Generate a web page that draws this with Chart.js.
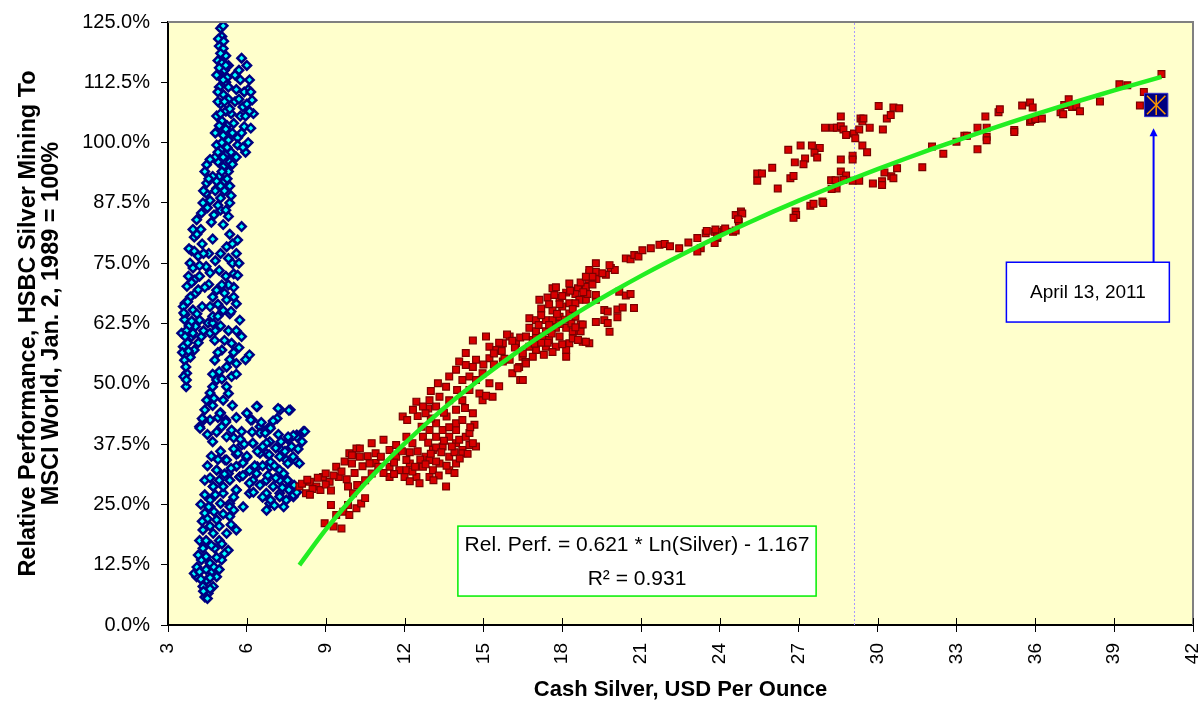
<!DOCTYPE html>
<html>
<head>
<meta charset="utf-8">
<script src="https://cdn.jsdelivr.net/npm/chart.js@4.4.0/dist/chart.umd.min.js"></script>
<style>
  html, body { margin: 0; padding: 0; background: #fff; }
  #wrap { width: 1198px; height: 702px; }
</style>
</head>
<body>
<div id="wrap"><canvas id="chart" width="1198" height="702"></canvas></div>
<script>
// x = cash silver (USD/oz), y = relative performance (%)
const xTicks = [3, 6, 9, 12, 15, 18, 21, 24, 27, 30, 33, 36, 39, 42];
const yTicks = [0, 12.5, 25, 37.5, 50, 62.5, 75, 87.5, 100, 112.5, 125];

// earlier period (blue diamonds)
const bluePoints = [
  [5.0,123.7],[5.1,124.2],[5.05,122],[4.95,120],[5.1,119.5],[5.2,118],[4.9,117],[5.05,116.5],[5.15,115],[5.0,113.5],
  [5.2,112.5],[4.95,111.5],[5.1,110],[5.3,109],[5.0,108],[5.2,106.5],[4.85,105.5],[5.05,104.5],[5.25,103.5],[4.9,102.5],
  [5.1,101.5],[5.3,100.5],[4.85,99.5],[5.0,98.5],[5.2,97.5],[4.9,96],[5.1,95],[5.3,94],[4.95,93],[5.15,92],[5.35,91],[4.85,90.5],
  [4.8,102],[4.8,97],[5.4,98],[5.45,102],[5.4,106],[4.9,108.5],[5.25,113.5],[5.3,116],[4.85,114],
  [4.92,121.5],[5.12,121],[5.0,118.5],[5.2,116],[4.95,115.5],[5.1,113],[5.3,111.5],[4.9,110.5],[5.15,108.5],[5.35,107],
  [5.0,106],[4.95,103.5],[5.2,102.8],[5.05,100],[4.9,98],[5.25,99],[5.1,97],[5.35,96],[5.05,94],[4.85,92],[5.25,92.5],[5.0,91],
  [5.8,117.5],[5.7,115],[6.1,113],[5.75,113],[6.05,111],[6.2,108.8],[5.85,107.4],[6.25,106],[5.9,103.3],[6.05,100],
  [5.95,98],[5.6,97],[5.6,111],[5.5,104],[5.65,101],[5.75,105.5],[6.15,103],[5.55,108.5],[5.45,95.5],
  [5.7,109],[5.9,110.5],[6.0,108],[5.8,102],[5.95,105.5],[6.1,106.5],[5.65,99.5],[5.85,99],[6.15,110.5],[6.0,116],[5.55,114],
  [4.47,95.4],[4.4,94],[4.47,91.6],[4.45,89.5],[4.33,87.5],[4.27,85.4],[5.0,88.5],[5.0,86],[5.35,87.5],[5.3,84.7],
  [4.7,93],[4.6,88],[4.75,85],[5.15,90],[4.6,96.5],[4.55,92.5],[4.35,90],[4.5,86.5],[4.9,87],[5.2,86],[4.8,90],[5.4,89],[4.65,83.5],[5.1,83],
  [4.09,84],[4.0,80.4],[3.9,77.6],[3.84,75],[3.78,72.3],[3.72,70.2],[3.65,66.7],[3.65,64.3],[4.1,81],[4.3,79],
  [4.55,77],[4.45,74.3],[4.2,72.3],[4.05,68.8],[4.55,70.6],[4.85,69.4],[5.23,78.4],[5.65,79.8],[5.8,82.6],[5.45,75],
  [5.5,72.8],[5.2,72.3],[5.15,68.8],[5.5,68],[5.35,64.5],[5.1,65.2],[4.95,73.5],[3.95,74],[4.15,76.5],[3.85,68],
  [4.3,66],[4.0,71.5],[5.35,81],[5.6,77],[4.7,80],[4.9,66.5],
  [3.8,78],[4.0,77.5],[4.2,74.5],[4.35,77],[4.6,73],[4.8,75.5],[5.0,77],[5.3,76],[5.5,70],[5.3,70.5],[4.7,68],[4.4,70],
  [3.9,71],[3.75,67],[4.15,69.5],[5.05,70.5],[5.7,75],[3.95,82],[4.25,82],[5.45,79],[5.65,72.5],
  [3.58,66],[3.63,63.3],[3.52,60.5],[3.58,57.7],[3.63,54.9],[3.71,52.2],[3.69,49.4],[3.95,65.3],[4.05,61.9],[3.9,59.8],
  [4.0,57],[4.2,63.2],[4.27,59.8],[4.52,62.6],[4.7,62.6],[3.8,62],[3.75,58.5],[3.85,55.5],[3.6,51.5],
  [3.6,64.7],[3.7,61],[3.55,56.5],[3.68,53.5],[3.78,56.8],[3.9,63],[4.1,64.5],[4.35,61],[4.6,60.5],[3.65,59.8],[3.95,60.5],[4.15,58.5],[3.7,50.8],
  [4.6,66],[5.23,67.4],[5.6,66.6],[5.73,63.2],[4.78,59],[5.42,58.4],[5.8,59.8],[6.1,56],[4.78,54.9],[5.23,53.5],
  [5.6,54.2],[4.85,50.8],[5.23,49.4],[5.42,51.5],[4.6,48.1],[5.1,46.6],[5.3,48],[4.4,44.6],[4.2,41.1],[4.6,42.5],
  [4.85,40],[5.04,41.1],[5.23,39],[5.42,40.4],[5.0,62],[5.3,61],[5.05,57],[4.95,52.5],[5.5,56.5],[4.7,45.5],[5.0,44],[4.5,39.5],
  [4.7,64],[4.9,64],[5.4,65],[4.8,61],[5.15,59],[5.6,61],[5.7,57.5],[4.9,56.5],[5.35,55],[5.05,51],[4.7,52],[5.6,52],
  [4.75,47],[5.45,45.5],[4.9,43],[5.2,42.5],[4.35,42.5],[4.7,38],[5.6,43],[5.95,55],
  [4.22,40.8],[4.3,42.8],[4.47,46.6],[4.7,49.4],[4.98,43.9],[5.2,42.1],[5.5,38.8],[6.0,43.9],[6.4,45.3],[6.2,42.5],
  [6.5,41.1],[6.87,41.1],[7.27,44.6],[7.65,44.6],[7.15,42.8],[7.58,38.4],[7.9,39.4],[8.15,40.1],[6.87,38],[7.25,36.6],
  [7.5,34.2],[7.9,33.9],[6.74,35.6],[6.23,37.7],[5.8,37.3],[5.6,35.4],[6.0,34.7],[6.4,32.8],[6.87,32.8],[7.25,32.1],
  [5.17,34.2],[4.86,32.1],[5.3,31.4],[5.73,30.7],[6.23,30],[6.74,30],[7.25,30],[7.6,28.7],[7.77,26.6],[7.25,27.3],
  [6.74,27.3],[4.72,28.7],[5.1,27.3],[5.6,28],[6.1,27.3],[4.6,24.5],[5.35,25.2],[5.86,24.5],[6.87,25.2],[7.4,24.5],
  [6.37,45.3],[6.0,43.9],[5.8,40.1],[6.15,42.5],[6.5,39.8],[6.23,37.7],[5.66,35.6],[6.0,35],[5.85,33.6],[5.6,32.9],
  [6.5,35.6],[6.75,37.7],[7.1,36.7],[7.25,34.9],[6.9,33.8],[7.56,33.5],[7.4,31.4],[7.76,34.9],[8.0,33.5],[7.9,39],
  [8.2,40.1],[7.77,39.3],[7.57,39],[7.19,44.9],[7.6,44.5],[7.0,42.3],[6.7,39.8],[7.2,39.5],[6.55,42],[5.9,37.5],[6.3,33],
  [6.2,40],[6.6,37],[6.4,36],[6.85,35.3],[7.05,33],[7.3,38],[7.45,36],[7.7,37],[7.95,36.5],[8.1,38],[6.9,40.8],[5.75,38.5],
  [6.1,32],[6.6,33],[6.8,31],
  [7.0,28.7],[7.25,26.6],[7.5,25.9],[7.77,26.9],[7.8,29],[6.75,23.8],[6.9,25.9],[6.5,29],[6.37,31.4],[6.1,29.4],[7.6,28],[7.1,30.5],
  [7.35,28.5],[7.05,24.8],[6.6,26.5],[6.25,27.5],[7.55,30],[7.9,27.5],
  [5.23,34.2],[4.85,32.1],[5.35,30],[5.73,30.7],[5.1,28.7],[5.6,28],[4.72,28.7],[4.5,33],[5.0,36],[5.5,36.5],[4.4,30],
  [4.65,35],[4.9,34.3],[5.4,32.5],[4.6,30.5],[5.15,31.3],[5.85,31],[4.95,30],[5.5,26.5],[4.8,27],
  [4.6,25.9],[5.0,25.2],[5.35,24.5],[4.4,23.2],[4.85,21.8],[5.35,22.5],[4.33,19.7],[4.72,19],[5.23,19],[5.6,19.7],
  [4.33,15.9],[4.78,15.9],[5.29,15.5],[4.27,13.5],[4.6,12.8],[5.04,13.5],[4.09,10],[4.47,9.3],[4.85,10],[4.53,6.6],
  [4.72,8],[4.33,8],[4.0,10.7],[4.5,22],[4.2,17.5],[4.95,17.5],[4.1,12],[4.65,11],[4.4,5.8],[4.25,25],
  [4.4,27],[4.55,24.5],[4.75,23.5],[5.1,23],[5.5,23.8],[4.3,21.5],[4.6,20.5],[4.95,20.5],[5.4,20.8],[4.45,17.5],
  [4.65,16.5],[5.05,16.8],[4.15,14.5],[4.45,14.2],[4.85,14],[5.15,14.8],[4.2,11],[4.45,11.5],[4.75,12],[4.25,9.5],
  [4.6,9.8],[4.95,11.5],[4.35,7],[4.6,7.5],[4.5,5.5]
];

// later period (red squares)
const redPoints = [
  [8.0,28.7],[8.25,27.3],[8.4,29.7],[8.65,28.7],[8.9,30.7],[8.8,28],[9.15,29.7],[9.0,31.4],[9.4,32.8],[9.5,30.7],
  [9.72,33.9],[9.9,35.6],[10.0,33.5],[10.17,36.6],[10.3,34.9],[9.85,28.7],[8.1,29.3],[8.3,30.1],[8.5,28.2],[8.7,30.5],
  [9.0,29.1],[9.3,31.0],[9.6,31.8],[9.2,27.9],[8.4,27.0],[9.8,30.2],[10.1,31.5],[10.4,32.9],[10.6,35.0],[10.9,33.6],
  [8.96,21.1],[9.2,24.9],[9.4,22.8],[9.3,20.4],[9.6,20],[9.67,23.5],[9.85,24.9],[10.04,27.3],[10.17,24.2],[10.35,25.2],
  [10.5,26.3],[10.2,29],[9.9,22.8],
  [10.5,30],[10.75,31.4],[10.67,33.5],[11.0,32.8],[10.9,35.6],[11.1,34.9],[11.43,32.8],[11.43,36.3],[11.68,34.9],[11.8,32.1],
  [12.0,30.7],[12.2,33.5],[12.45,30.7],[12.7,32.8],[12.95,30.7],[12.8,34.9],[13.08,36.3],[13.33,33.5],[13.45,37],[13.7,34.9],
  [13.96,37.7],[14.2,36.3],[14.47,37.3],[14.72,37],[12.3,37.7],[12.7,39],[12.95,40.4],[13.2,39],[13.45,40.4],[13.7,39],
  [13.96,40.4],[14.08,38.4],[13.7,41],[13.2,41.8],[12.65,41.1],[12.07,39],[11.68,37.3],[11.2,38.4],[10.75,37.7],[10.3,36.6],
  [10.0,35.2],[12.07,34.2],[11.43,30.7],[12.57,29.4],[13.58,28.7],[14.6,37.7],[13.08,32.1],[12.95,34.2],[12.07,32.1],[13.7,32.1],
  [14.33,39],[14.2,35.6],[13.96,33.5],[14.47,39.8],[13.96,41.8],[14.66,41.5],[12.5,36],[13.2,36.8],[13.9,35.8],[12.9,37.8],
  [13.5,38.2],[11.9,36],[12.3,31.8],[13.3,31],[11.6,31.3],
  [12.2,35.8],[12.6,34.3],[13.0,35.5],[13.4,35.8],[13.8,37],[14.1,34.5],[12.8,33.3],[13.2,33.9],[13.6,33],[12.4,32.8],
  [13.1,30],[12.2,29.8],[11.2,31.5],[11.6,33.7],[13.9,31.5],[14.4,35.5],[14.5,41],[14.2,42.5],[13.6,43.2],[13.0,42.8],
  [12.5,43.3],[12.9,44.9],
  [11.93,43.2],[12.1,42.5],[12.45,46.3],[12.7,45.3],[12.32,44.6],[12.95,46.6],[12.8,43.9],[13.2,45.3],[13.33,47.3],[13.58,49.4],
  [13.27,50.1],[13.7,51.5],[13.96,52.9],[14.08,54.6],[14.33,53.9],[14.6,53.5],[14.2,50.8],[14.47,51.5],[14.0,48.7],[13.7,46.6],
  [13.96,44.6],[14.2,46.6],[14.47,48.7],[14.72,50.8],[14.85,48],[14.97,52.2],[15.23,55.3],[15.48,57],[15.74,58.4],[16.0,59.8],
  [16.24,58.4],[15.23,57.7],[14.6,59],[15.1,59.8],[14.33,56.4],[14.72,55],[15.23,50.1],[15.35,47.3],[14.97,46.6],[14.6,43.9],
  [16.0,55],[16.36,53.5],[16.1,52.2],[16.49,55.6],[16.4,50.8],[15.74,54.6],[15.6,58.5],[15.9,60.2],[16.2,57.5],[16.4,59.6],
  [15.4,56.3],[16.6,54.5],[16.3,53.2],[15.8,55.2],[15.1,47.5],[15.6,49.5],[13.5,44],[13.0,48.5],[14.3,45],
  [15.0,54],[15.4,54],[15.7,56.8],[16.1,58.9],
  [17.13,67.4],[17.44,67.9],[17.63,69.8],[17.76,70],[18.27,70.8],[18.6,69.8],[17.9,67.8],[18.15,68.9],[18.5,68.6],[18.9,70.1],
  [19.0,71.7],[18.7,71],[19.03,72.9],[19.28,73.2],[19.3,71.7],[19.15,70.6],[18.9,67.4],[18.65,67.4],[18.27,66.7],[18.0,66],
  [17.63,65.2],[17.2,65.6],[16.75,63.6],[17.0,63.2],[17.38,63.2],[17.63,63.2],[17.9,63.9],[18.27,64.6],[18.5,63.9],[16.75,61.6],
  [17.0,60.9],[17.38,60.9],[17.76,61.6],[18.15,61.6],[18.4,60.9],[18.7,62.3],[18.65,60.9],[16.62,59.8],[16.88,59.1],[17.25,59.8],
  [17.5,59.1],[17.9,59.8],[18.27,58.4],[17.76,57.7],[17.38,57.7],[17.0,57],[16.75,57.7],[16.5,56.3],[16.88,55.6],[17.3,56],
  [17.63,56.6],[18.15,57],[18.15,55.6],[16.62,54.2],[16.5,50.8],[18.4,59.4],[18.78,58.7],[19.03,58.4],[18.7,60.9],[19.28,67.4],
  [18.96,68.6],[18.5,66.7],[17.5,66.5],[17.1,62.2],[17.9,62.4],[18.4,65.5],[17.45,58.5],[16.95,58.3],
  [17.2,64.2],[17.5,62.2],[17.8,64.5],[18.1,63.3],[18.35,62.5],[17.0,59.5],[17.6,60.4],[18.0,58.2],[18.5,61.7],[17.2,58.5],
  [17.9,66.5],[18.3,69.3],[18.0,68.2],[17.7,68.4],[18.8,69],
  [19.66,72.6],[19.85,74],[20.0,73.6],[19.8,74.6],[19.53,72.9],[19.28,75],[19.15,72.2],[18.9,72.2],[19.03,73.6],[19.28,68.4],
  [19.6,65.3],[19.73,65],[19.6,63.2],[19.28,62.8],[19.73,62.6],[19.8,60.8],[18.78,62.3],[20.17,69.1],[20.42,68.3],[20.6,68.6],
  [20.1,65.4],[20.3,65.8],[20.1,63.8],[20.73,65.7],[18.6,59.1],[18.9,58.7],
  [20.42,76],[20.6,75.8],[20.74,76.7],[20.9,76.4],[21.05,77.7],[21.37,78.1],[21.7,78.8],[21.9,79],[22.1,78.5],[22.45,78.1],
  [22.8,79.3],[23.14,80.2],[23.27,78.1],[23.14,77.4],[23.46,81.2],[23.8,81.5],[23.9,81.5],[23.9,80.2],[23.8,79.2],[24.16,81.9],
  [24.5,81.5],[24.72,83.6],
  [26.6,98.5],[27.07,99.4],[27.5,99.4],[27.8,98.9],[27.6,97.9],[27.7,96.9],[27.24,96.7],[26.85,95.9],[27.18,95.5],[25.99,94.8],
  [25.42,93.6],[25.6,93.6],[25.42,92.1],[26.68,92.6],[26.8,93.1],[26.2,90.5],[24.6,85],[24.8,85.7],[24.85,85.3],[24.69,84.1],
  [24.2,82.2],[23.83,82],[23.5,81.7],[24.6,81.8],[23.9,80.4],[26.88,85.7],[26.9,85],[26.8,84.4],[27.44,86.9],[27.56,87.3],
  [27.9,87.8],[27.93,87.5],[28.0,103.1],[28.3,103.1],[28.45,103.1],[28.6,103.4],[28.6,105.4],[28.7,102.7],[28.8,101.6],[29.1,101.9],
  [29.15,100.9],[29.3,102.7],[29.35,105],[29.42,104.4],[29.46,105],[29.7,103.1],[30.04,107.6],[30.2,102.7],[30.35,105],[30.5,105.7],
  [30.6,107.3],[30.82,107.1],[29.42,99.4],[29.6,98],[28.6,96.5],[29.05,97.3],[29.05,96.5],[28.6,94],[28.8,93.2],[28.23,92.2],
  [28.4,92.2],[28.44,90.5],[28.25,90.4],[28.7,92.3],[29.05,92.1],[29.3,92.1],[29.82,91.5],[30.17,92],[30.17,91.2],[30.26,93.8],
  [30.52,93],[30.6,92.6],[30.74,94.7],[31.7,94.9],
  [32.07,99.2],[32.5,97.7],[33.0,100.2],[33.3,101.4],[33.4,101.4],[33.8,98.6],[33.8,103.1],[34.1,105.4],[34.15,103.1],[34.15,101.2],
  [34.15,100.5],[34.6,106.3],[34.65,106.9],[35.2,102.6],[35.2,102.2],[35.5,107.7],[35.8,108.3],[35.9,107.3],[35.8,104.3],[35.85,104.7],
  [36.0,104.9],[36.25,105],[36.96,106.3],[37.06,105.9],[37.1,107.8],[37.27,109],[37.4,107.4],[37.56,107.6],[37.7,106.5],[38.46,108.5],
  [39.2,112.1],[39.5,111.9],[39.98,107.7],[40.13,110.5],[40.8,114.2]
];

// log fit
const trendSilver = [8,9,10,11,12,13,14,15,16,17,18,19,20,21,22,23,24,25,26,27,28,29,30,31,32,33,34,35,36,37,38,39,40,40.8];
const trendPerf = [12.43,19.75,26.29,32.21,37.61,42.58,47.19,51.47,55.48,59.24,62.79,66.15,69.34,72.37,75.25,78.01,80.66,
  83.19,85.63,87.97,90.23,92.41,94.51,96.55,98.52,100.43,102.29,104.09,105.84,107.54,109.19,110.81,112.38,113.61];

const latestPoint = [40.6, 107.8];   // April 13, 2011
const markerSilver = 29.12;          // dotted reference line
const equationLines = ['Rel. Perf. = 0.621 * Ln(Silver) - 1.167', 'R\u00B2 = 0.931'];
const noteText = 'April 13, 2011';

const toXY = arr => arr.map(p => ({x: p[0], y: p[1]}));
const FONT = "'Liberation Sans', Arial, sans-serif";

const decorations = {
  id: 'decorations',
  beforeDraw(chart) {
    const {ctx, chartArea: a} = chart;
    ctx.save();
    ctx.fillStyle = '#FFFFCC';
    ctx.fillRect(a.left, a.top, a.right - a.left, a.bottom - a.top);
    ctx.restore();
  },
  afterDraw(chart) {
    const {ctx, chartArea: a, scales: {x, y}} = chart;
    ctx.save();
    // top / right frame
    ctx.strokeStyle = '#808080';
    ctx.lineWidth = 2;
    ctx.beginPath();
    ctx.moveTo(a.left, a.top);
    ctx.lineTo(a.right, a.top);
    ctx.lineTo(a.right, a.bottom);
    ctx.stroke();

    // x ticks also poke a little into the plot
    ctx.strokeStyle = '#000';
    ctx.lineWidth = 1;
    ctx.beginPath();
    xTicks.forEach(v => {
      const px = Math.round(x.getPixelForValue(v)) + 0.5;
      ctx.moveTo(px, a.bottom);
      ctx.lineTo(px, a.bottom - 7);
    });
    ctx.stroke();

    // equation box
    const ex1 = x.getPixelForValue(14.03), ex2 = x.getPixelForValue(27.66);
    const ey1 = y.getPixelForValue(20.5), ey2 = y.getPixelForValue(6.0);
    ctx.fillStyle = '#fff';
    ctx.fillRect(ex1, ey1, ex2 - ex1, ey2 - ey1);
    ctx.strokeStyle = '#00EE00';
    ctx.lineWidth = 1.5;
    ctx.strokeRect(ex1, ey1, ex2 - ex1, ey2 - ey1);
    ctx.fillStyle = '#000';
    ctx.font = '21px ' + FONT;
    ctx.textAlign = 'center';
    ctx.textBaseline = 'middle';
    const ecx = (ex1 + ex2) / 2;
    ctx.fillText(equationLines[0], ecx, ey1 + 19);
    ctx.fillText(equationLines[1], ecx, ey1 + 53);

    // note box + arrow
    const nx = x.getPixelForValue(40.5);
    const nTip = y.getPixelForValue(103.0);
    const bx1 = x.getPixelForValue(34.9), bx2 = x.getPixelForValue(41.1);
    const by1 = y.getPixelForValue(75.2), by2 = y.getPixelForValue(62.8);
    ctx.strokeStyle = '#0000FF';
    ctx.fillStyle = '#0000FF';
    ctx.lineWidth = 2;
    ctx.beginPath();
    ctx.moveTo(nx, by1);
    ctx.lineTo(nx, nTip + 6);
    ctx.stroke();
    ctx.beginPath();
    ctx.moveTo(nx, nTip);
    ctx.lineTo(nx - 4, nTip + 8);
    ctx.lineTo(nx + 4, nTip + 8);
    ctx.closePath();
    ctx.fill();
    ctx.fillStyle = '#fff';
    ctx.fillRect(bx1, by1, bx2 - bx1, by2 - by1);
    ctx.lineWidth = 1.5;
    ctx.strokeRect(bx1, by1, bx2 - bx1, by2 - by1);
    ctx.fillStyle = '#000';
    ctx.font = '19px ' + FONT;
    ctx.fillText(noteText, (bx1 + bx2) / 2, (by1 + by2) / 2 + 1);
    ctx.restore();
  }
};

new Chart(document.getElementById('chart').getContext('2d'), {
  type: 'scatter',
  data: {
    datasets: [
      {
        label: 'April 13, 2011 star',
        data: [{x: latestPoint[0], y: latestPoint[1]}],
        pointStyle: 'crossRot',
        pointRadius: 13,
        borderColor: '#FF9900',
        borderWidth: 1.5,
        order: 0
      },
      {
        label: 'April 13, 2011 bar',
        data: [{x: latestPoint[0], y: latestPoint[1]}],
        pointStyle: 'line',
        pointRotation: 90,
        pointRadius: 10,
        borderColor: '#FF9900',
        borderWidth: 1.5,
        order: 0
      },
      {
        label: 'April 13, 2011',
        data: [{x: latestPoint[0], y: latestPoint[1]}],
        pointStyle: 'rect',
        pointRadius: 16.5,
        backgroundColor: '#000080',
        borderColor: '#3333CC',
        borderWidth: 1,
        order: 1
      },
      {
        label: 'Log fit',
        data: trendSilver.map((s, i) => ({x: s, y: trendPerf[i]})),
        showLine: true,
        pointRadius: 0,
        borderColor: '#22EE22',
        borderWidth: 4.5,
        cubicInterpolationMode: 'monotone',
        order: 2
      },
      {
        label: 'Recent',
        data: toXY(redPoints),
        pointStyle: 'rect',
        pointRadius: 4.8,
        backgroundColor: '#D80000',
        borderColor: '#7A0000',
        borderWidth: 1.2,
        order: 3
      },
      {
        label: 'Earlier',
        data: toXY(bluePoints),
        pointStyle: 'rectRot',
        pointRadius: 4.2,
        backgroundColor: '#00FFFF',
        borderColor: '#000080',
        borderWidth: 2.5,
        order: 4
      },
      {
        label: 'marker',
        data: [{x: markerSilver, y: 0}, {x: markerSilver, y: 125}],
        showLine: true,
        pointRadius: 0,
        borderColor: '#A898FF',
        borderWidth: 1,
        borderDash: [2, 2],
        order: 5
      }
    ]
  },
  options: {
    responsive: false,
    animation: false,
    layout: { autoPadding: false, padding: { top: 22, right: 5, left: 0, bottom: 0 } },
    plugins: {
      legend: { display: false },
      tooltip: { enabled: false }
    },
    scales: {
      x: {
        type: 'linear',
        min: 3,
        max: 42,
        afterBuildTicks: s => { s.ticks = xTicks.map(v => ({value: v})); },
        afterFit: s => { s.height = 77; s.paddingLeft = 0; s.paddingRight = 0; },
        ticks: {
          autoSkip: false,
          maxRotation: 90,
          minRotation: 90,
          padding: 11,
          color: '#000',
          font: { family: FONT, size: 19 }
        },
        grid: { drawOnChartArea: false, tickLength: 7, color: '#000' },
        border: { color: '#000', width: 2 },
        title: {
          display: true,
          text: 'Cash Silver, USD Per Ounce',
          color: '#000',
          font: { family: FONT, size: 22, weight: 'bold', lineHeight: 1 },
          padding: { top: 0, bottom: 1 }
        }
      },
      y: {
        type: 'linear',
        min: 0,
        max: 125,
        afterBuildTicks: s => { s.ticks = yTicks.map(v => ({value: v})); },
        afterFit: s => { s.width = 168; s.paddingTop = 0; s.paddingBottom = 0; },
        ticks: {
          padding: 11,
          color: '#000',
          font: { family: FONT, size: 20 },
          callback: v => v.toFixed(1) + '%'
        },
        grid: { drawOnChartArea: false, tickLength: 7, color: '#000' },
        border: { color: '#000', width: 2 },
        title: {
          display: true,
          text: ['Relative Performance, HSBC Silver Mining To', 'MSCI World, Jan. 2, 1989 = 100%'],
          color: '#000',
          font: { family: FONT, size: 23.5, weight: 'bold', lineHeight: 1 },
          padding: { top: 16.5, bottom: 0 }
        }
      }
    }
  },
  plugins: [decorations]
});
</script>
</body>
</html>
